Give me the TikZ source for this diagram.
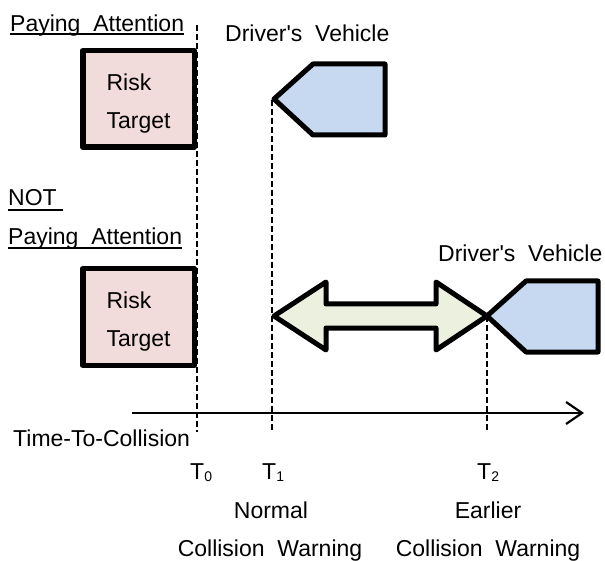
\documentclass[tikz,border=0pt]{standalone}
\usepackage{fontspec}
\setmainfont{Liberation Sans}
\usetikzlibrary{arrows.meta}
\definecolor{riskpink}{RGB}{242,220,219}
\definecolor{carblue}{RGB}{198,217,241}
\definecolor{gapgreen}{RGB}{235,241,222}
\begin{document}
\begin{tikzpicture}[x=1pt, y=-1pt, font=\fontsize{23}{28}\selectfont,
  txt/.style={anchor=base west, inner sep=0pt},
  ctxt/.style={anchor=base, inner sep=0pt},
  target/.style={draw, line width=5.5pt, line join=round, fill=riskpink, minimum width=111.5pt, minimum height=96.5pt, inner sep=0pt, align=left, font=\fontsize{23}{38}\selectfont},
  body/.style={draw, line width=5pt, line join=round},
  guide/.style={line width=2.2pt, dash pattern=on 6pt off 3pt},
  uline/.style={line width=1.6pt}]
    \useasboundingbox (0,0) rectangle (605,561);

    % labels on the left
    \node[txt] (pay1) at (10,32) {Paying~~Attention};
    \node[txt] (not) at (8,206) {NOT~~};
    \node[txt] (pay2) at (8,245) {Paying~~Attention};
    \draw[uline] ([yshift=-2pt]pay1.base west) -- ([yshift=-2pt]pay1.base east);
    \draw[uline] ([yshift=-4pt]not.base west) -- ([yshift=-4pt]not.base east);
    \draw[uline] ([yshift=-3pt]pay2.base west) -- ([yshift=-3pt]pay2.base east);

    % time marks
    \coordinate (t0top) at (197,25);
    \coordinate (t0bot) at (197,432);
    \coordinate (car1tip) at (274,99);
    \coordinate (t1top) at (272,100);
    \coordinate (t1bot) at (272,430);
    \coordinate (car2tip) at (487,316);
    \coordinate (t2bot) at (487,430);
    \draw[guide] (t0top) -- (t0bot);
    \draw[guide] (t1top) -- (t1bot);
    \draw[guide] (car2tip) -- (t2bot);

    % risk targets
    \node[target] (target1) at (138.5,99) {\rule{0pt}{25pt}Risk\\Target};
    \node[target] (target2) at (138.5,317) {\rule{0pt}{25pt}Risk\\Target};

    % vehicles
    \node[txt] (car1label) at (225,42) {Driver\textquotesingle s~~Vehicle};
    \draw[body, fill=carblue] (car1tip) -- ++(39,-35) -- ++(72,0) -- ++(0,71) -- ++(-72,0) -- cycle;
    \node[txt] (car2label) at (438,262) {Driver\textquotesingle s~~Vehicle};
    \draw[body, fill=carblue] (car2tip) -- ++(39,-35) -- ++(72,0) -- ++(0,71) -- ++(-72,0) -- cycle;

    % warning gap
    \draw[body, fill=gapgreen] (274,316) -- (326,282) -- (326,304) -- (436,304) -- (436,282)
        -- (car2tip) -- (436,350) -- (436,328) -- (326,328) -- (326,350) -- cycle;

    % axis
    \coordinate (axisstart) at (132,413);
    \coordinate (axisend) at (584,413);
    \draw[line width=2.2pt, -{Straight Barb[length=16pt, width=22pt]}] (axisstart) -- (axisend);
    \node[txt] (ttc) at (13,446) {Time-To-Collision};

    \node[txt] (T0) at (190,479) {T\raisebox{-2pt}{\fontsize{14}{16}\selectfont 0}};
    \node[txt] (T1) at (262,479) {T\raisebox{-2pt}{\fontsize{14}{16}\selectfont 1}};
    \node[txt] (T2) at (477,479) {T\raisebox{-2pt}{\fontsize{14}{16}\selectfont 2}};

    \node[ctxt] (normal) at (271,518) {Normal};
    \node[ctxt] (normalcw) at (270,556) {Collision~~Warning};
    \node[ctxt] (earlier) at (488,518) {Earlier};
    \node[ctxt] (earliercw) at (488,556) {Collision~~Warning};
\end{tikzpicture}
\end{document}
